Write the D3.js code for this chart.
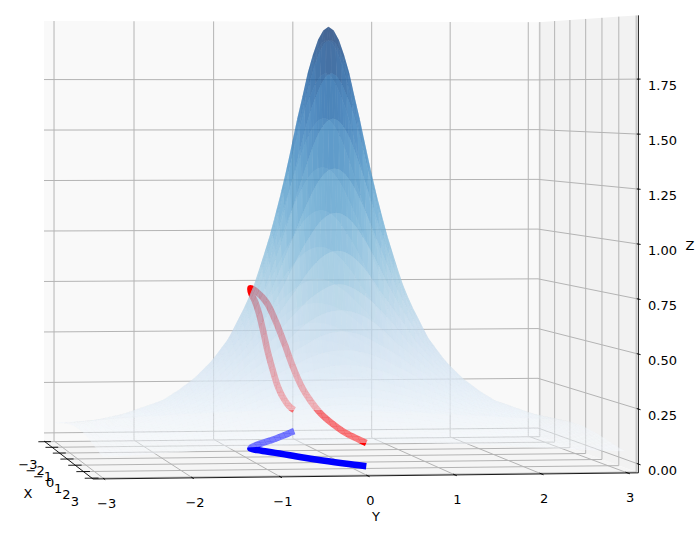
<!DOCTYPE html>
<html><head><meta charset="utf-8">
<script src="https://cdn.jsdelivr.net/npm/d3@7"></script>
<style>html,body{margin:0;background:#fff}svg{display:block}text{font-family:"DejaVu Sans";font-size:13px;fill:#000}</style>
</head><body><svg id="c" width="696" height="533"></svg>
<script>
const xTicks=[-3,-2,-1,0,1,2,3];
const yTicks=[-3,-2,-1,0,1,2,3];
const zTicks=[0,0.25,0.5,0.75,1,1.25,1.5,1.75];
const radiusKnots=[0,0.05,0.1,0.15,0.2,0.25,0.3,0.35,0.4,0.5,0.6,0.7,0.8,0.9,1,1.2,1.4,1.6,1.8,2,2.5,3,3.5,4,4.5];
const heightKnots=[2,1.99,1.96,1.915,1.85,1.78,1.69,1.61,1.52,1.33,1.16,1.01,0.88,0.76,0.67,0.515,0.41,0.33,0.27,0.22,0.15,0.105,0.08,0.06,0.05];
const rowSteps=[-3,-2.875,-2.75,-2.625,-2.5,-2.375,-2.25,-2.125,-2,-1.875,-1.75,-1.625,-1.5,-1.375,-1.25,-1.125,-1,-0.875,-0.75,-0.625,-0.5,-0.375,-0.25,-0.125,0,0.125,0.25,0.375,0.5,0.625,0.75,0.875,1,1.125,1.25,1.375,1.5,1.625,1.75,1.875,2,2.125,2.25,2.375,2.5,2.625,2.75,2.875,3];
const curveX=[3,2.75,2.5,2.25,2,1.75,1.5,1.25,1,0.75,0.5,0.25,0,-0.25,-0.5,-0.75,-1,-1.25,-1.5,-1.75,-2,-2.25,-2.5,-2.75,-3];
const curveY=[0,-0.1,-0.2,-0.29,-0.38,-0.46,-0.535,-0.6,-0.665,-0.74,-0.81,-0.89,-0.94,-0.89,-0.82,-0.74,-0.65,-0.56,-0.47,-0.39,-0.31,-0.23,-0.155,-0.08,0];
const curveZ=[0.105,0.124,0.147,0.177,0.215,0.265,0.329,0.413,0.515,0.62,0.7,0.745,0.76,0.725,0.69,0.63,0.53,0.424,0.337,0.269,0.218,0.178,0.148,0.124,0.105];

const svg=d3.select("#c");
const xN=d3.scaleLinear().domain([-3.125,3.125]).range([0,1]);
const yN=d3.scaleLinear().domain([-3.125,3.125]).range([0,1]);
const zN=d3.scaleLinear().domain([-0.04,2.04]).range([0,1]);
const heightAt=d3.scaleLinear().domain(radiusKnots).range(heightKnots);
const colour=d3.scaleSequential(d3.interpolateBlues).domain([0.054,2]);
const colSteps=d3.range(-3,3.01,0.0625);

// perspective box: A back-left floor, B back-right floor, D front-left floor
const A=[44,441],B=[538,436],D=[93,479],G=0.015,H=-0.097,TALL=420;
const Pu=[B[0]*(1+G)-A[0],B[1]*(1+G)-A[1]],Pv=[D[0]*(1+H)-A[0],D[1]*(1+H)-A[1]];
function proj(u,v,n){const w=1+G*u+H*v;return [(A[0]+u*Pu[0]+v*Pv[0])/w,(A[1]+u*Pu[1]+v*Pv[1]-TALL*n)/w];}
const p3=(x,y,z)=>proj(yN(y),xN(x),zN(z));
const poly=pts=>"M"+pts.map(p=>p[0].toFixed(2)+","+p[1].toFixed(2)).join("L")+"Z";
const seg=(g,a,b,col,w)=>g.append("line").attr("x1",a[0]).attr("y1",a[1]).attr("x2",b[0]).attr("y2",b[1]).attr("stroke",col).attr("stroke-width",w);

const box=svg.append("g");
box.append("path").attr("d",poly([proj(0,0,0),proj(1,0,0),proj(1,0,1),proj(0,0,1)])).attr("fill","#f9f9f9");
box.append("path").attr("d",poly([proj(1,0,0),proj(1,1,0),proj(1,1,1),proj(1,0,1)])).attr("fill","#f2f2f2");
box.append("path").attr("d",poly([proj(0,0,0),proj(1,0,0),proj(1,1,0),proj(0,1,0)])).attr("fill","#f5f5f5");
const grid="#b4b4b4",gw=1;
yTicks.forEach(t=>{const u=yN(t);seg(box,proj(u,0,0),proj(u,0,1),grid,gw);seg(box,proj(u,0,0),proj(u,1,0),grid,gw);});
xTicks.forEach(t=>{const v=xN(t);seg(box,proj(1,v,0),proj(1,v,1),grid,gw);seg(box,proj(0,v,0),proj(1,v,0),grid,gw);});
zTicks.forEach(t=>{const n=zN(t);seg(box,proj(0,0,n),proj(1,0,n),grid,gw);seg(box,proj(1,0,n),proj(1,1,n),grid,gw);});

// axes
const ax=svg.append("g");
seg(ax,proj(0,0,0),proj(0,1,0),"#000",0.9);
seg(ax,proj(0,1,0),proj(1,1,0),"#000",0.9);
seg(ax,proj(1,1,0),proj(1,1,1),"#000",0.9);
xTicks.forEach(t=>{const v=xN(t);seg(ax,proj(-0.013,v,0),proj(0.012,v,0),"#000",0.9);
  const p=proj(0,v,0);ax.append("text").attr("x",p[0]-17).attr("y",p[1]+23).attr("dy","0.35em").attr("text-anchor","middle").text(String(t).replace("-","\u2212"));});
yTicks.forEach(t=>{const u=yN(t);seg(ax,proj(u,0.98,0),proj(u,1.02,0),"#000",0.9);
  const p=proj(u,1,0);ax.append("text").attr("x",p[0]+2.5).attr("y",p[1]+24.5).attr("dy","0.35em").attr("text-anchor","middle").text(String(t).replace("-","\u2212"));});
zTicks.forEach(t=>{const n=zN(t);seg(ax,proj(1,0.985,n),proj(1,1.02,n),"#000",0.9);
  const p=proj(1,1,n);ax.append("text").attr("x",648).attr("y",p[1]+6.5).attr("dy","0.35em").text(t.toFixed(2));});
[["X",28,493],["Y",376,516],["Z",690,245]].forEach(l=>ax.append("text").attr("x",l[1]).attr("y",l[2]).attr("dy","0.35em").attr("text-anchor","middle").text(l[0]));

// curve and its floor shadow
const line=d3.line().curve(d3.curveCatmullRom);
const curve=svg.append("g").attr("fill","none").attr("stroke-width",6.5).attr("stroke-linejoin","round");
curve.append("path").attr("d",line(curveX.map((x,i)=>p3(x,curveY[i],0)))).attr("stroke","#0000ff");
curve.append("path").attr("d",line(curveX.map((x,i)=>p3(x,curveY[i],curveZ[i])))).attr("stroke","#ff0000");

// surface
const mesh=svg.append("g");
const Z=(x,y)=>heightAt(Math.hypot(x,y));
for(let i=0;i<rowSteps.length-1;i++){for(let j=0;j<colSteps.length-1;j++){
  const x0=rowSteps[i],x1=rowSteps[i+1],y0=colSteps[j],y1=colSteps[j+1];
  const zz=[Z(x0,y0),Z(x0,y1),Z(x1,y1),Z(x1,y0)];
  mesh.append("path").attr("d",poly([p3(x0,y0,zz[0]),p3(x0,y1,zz[1]),p3(x1,y1,zz[2]),p3(x1,y0,zz[3])]))
    .attr("fill",colour(d3.mean(zz))).attr("fill-opacity",0.5);
}}
</script></body></html>
